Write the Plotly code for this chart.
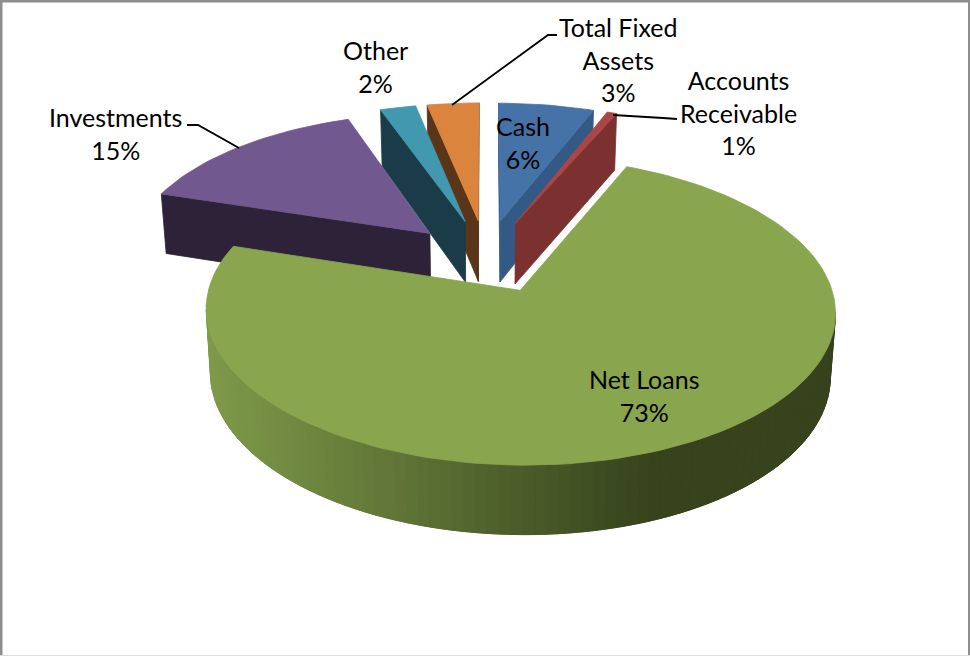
import math
import plotly.graph_objects as go

# ---- data ----
categories = ["Cash", "Accounts<br>Receivable", "Net Loans", "Investments", "Other", "Total Fixed<br>Assets"]
shares = [5.9, 0.6, 73.4, 14.7, 2.2, 3.2]
top_colors = ["#4572A7", "#AA4643", "#89A54E", "#71588F", "#4198AF", "#DB843D"]
wall_colors = ["#335A85", "#7A3130", "#5A7033", "#2D2238", "#1A3C48", "#5A3518"]
label_x = [523, 738, 644, 115, 375, 618]
label_y = [142, 112, 395, 133, 66, 59]
y_nudge = [2, 2, 0, 4, 2, 2]
draw_order = [5, 4, 3, 0, 1, 2]

# ---- projection of the tilted pie ----
CX, CY, RX, RY, P, DEPTH, EXPLODE = 486, 255, 302, 142, 0.13, 62, 0.265


def project(u, v, z=0.0):
    w = 1 - P * v
    s = 1 - 0.015 * z
    return CX + RX * u / w * s, CY + RY * v / w + z * DEPTH / w ** 0.65


def lerp_hex(a, b, t):
    ca = [int(a[i:i + 2], 16) for i in (1, 3, 5)]
    cb = [int(b[i:i + 2], 16) for i in (1, 3, 5)]
    return "#%02x%02x%02x" % tuple(round(x + (y - x) * t) for x, y in zip(ca, cb))


fig = go.Figure()


def poly(points, color, dy=0):
    xs = [p[0] for p in points] + [points[0][0]]
    ys = [p[1] + dy for p in points] + [points[0][1] + dy]
    fig.add_trace(go.Scatter(x=xs, y=ys, mode="lines", fill="toself", fillcolor=color,
                             line=dict(color=color, width=0.8), hoverinfo="skip", showlegend=False))


total = sum(shares)
starts = [sum(shares[:i]) / total * 2 * math.pi for i in range(len(shares))]

for i in draw_order:
    a0 = starts[i]
    a1 = a0 + shares[i] / total * 2 * math.pi
    mid = (a0 + a1) / 2
    u0, v0 = EXPLODE * math.sin(mid), -EXPLODE * math.cos(mid)
    view = (-u0, 1 / P - v0)
    n = max(3, int((a1 - a0) * 30))
    angles = [a0 + (a1 - a0) * k / n for k in range(n + 1)]
    rim = [(u0 + math.sin(a), v0 - math.cos(a)) for a in angles]
    dy = y_nudge[i]

    # flat cut faces
    for a, normal in ((a0, (-math.cos(a0), -math.sin(a0))), (a1, (math.cos(a1), math.sin(a1)))):
        if normal[0] * view[0] + normal[1] * view[1] > 0:
            ru, rv = u0 + math.sin(a), v0 - math.cos(a)
            poly([project(u0, v0), project(ru, rv), project(ru, rv, 1), project(u0, v0, 1)], wall_colors[i], dy)

    # outer rim, facing the viewer; each strip overlaps the next to hide seams
    for k in range(n):
        a = (angles[k] + angles[k + 1]) / 2
        pu, pv = rim[k]
        if math.sin(a) * (-pu) + (-math.cos(a)) * (1 / P - pv) > 0:
            far = rim[min(k + 2, n)]
            q = [project(*rim[k]), project(*far), project(*far, 1), project(*rim[k], 1)]
            if i == 2:
                x_mid = (project(*rim[k])[0] + project(*rim[k + 1])[0]) / 2
                t = min(1, max(0, (x_mid - 205) / (650 - 205)))
                color = lerp_hex("#7F9A4A", "#36431C", t)
            else:
                color = wall_colors[i]
            poly(q, color, dy)

    # top
    poly([project(u0, v0)] + [project(*p) for p in rim], top_colors[i], dy)

# leader lines
leaders = [
    "M187,125 L198,125 L239,148",
    "M557,35 L548,35 L452,105",
    "M677,119 L663,118 L613,115",
]
shapes = [dict(type="path", path=p, xref="x", yref="y", line=dict(color="#000000", width=1.8)) for p in leaders]
# chart frame
shapes += [
    dict(type="line", xref="paper", yref="paper", x0=0, x1=1, y0=1, y1=1, line=dict(color="#8E8E8E", width=5)),
    dict(type="line", xref="paper", yref="paper", x0=0, x1=0, y0=0, y1=1, line=dict(color="#8E8E8E", width=5)),
    dict(type="line", xref="paper", yref="paper", x0=1, x1=1, y0=0, y1=1, line=dict(color="#8E8E8E", width=4)),
    dict(type="line", xref="paper", yref="paper", x0=0, x1=1, y0=0, y1=0, line=dict(color="#DDDDDD", width=2)),
]

annotations = [
    dict(x=x, y=y, xref="x", yref="y", text=f"{c}<br>{round(s)}%", showarrow=False, align="center",
         font=dict(family="Lato", size=25, color="#000000"))
    for c, s, x, y in zip(categories, shares, label_x, label_y)
]

fig.update_layout(
    width=970, height=656, margin=dict(l=0, r=0, t=0, b=0),
    paper_bgcolor="#FFFFFF", plot_bgcolor="#FFFFFF", showlegend=False,
    xaxis=dict(range=[0, 970], visible=False, fixedrange=True),
    yaxis=dict(range=[656, 0], visible=False, fixedrange=True),
    shapes=shapes, annotations=annotations,
)
fig.write_html("out.html", config={"displayModeBar": False},
               post_script="document.body.style.margin='0';document.body.style.overflow='hidden';")
